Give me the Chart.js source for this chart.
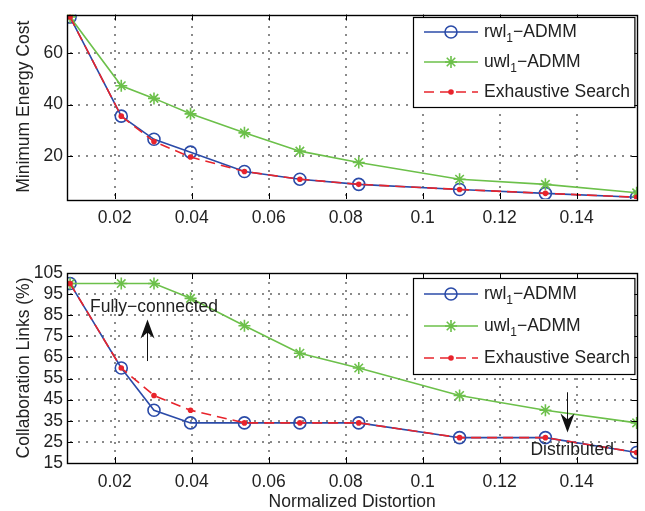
<!DOCTYPE html>
<html>
<head>
<meta charset="utf-8">
<script src="https://cdn.jsdelivr.net/npm/chart.js@4.4.1/dist/chart.umd.min.js"></script>
<style>
  html, body { margin: 0; padding: 0; background: #fff; }
  #wrap { width: 645px; height: 511px; position: relative; }
  .box { position: absolute; left: 0; width: 645px; }
</style>
</head>
<body>
<div id="wrap">
  <div class="box" style="top:0;height:230px"><canvas id="energyChart" width="645" height="230"></canvas></div>
  <div class="box" style="top:230px;height:281px"><canvas id="linksChart" width="645" height="281"></canvas></div>
</div>
<script>
// normalized distortion (x) for each point
const distortion = [0.0084, 0.0217, 0.0302, 0.0397, 0.0537, 0.0681, 0.0834, 0.1096, 0.1319, 0.1556];

// top panel: minimum energy cost
const energyRwl = [74, 35.5, 26.5, 21.5, 14, 11, 9, 7, 5.5, 4];
const energyUwl = [74, 47.3, 42.4, 36.4, 29, 21.9, 17.5, 11, 9, 5.7];
const energyExh = [74, 35.5, 25.6, 19.6, 14, 11, 9, 7, 5.5, 4];

// bottom panel: collaboration links (%)
const linksRwl = [100, 60, 40, 34, 34, 34, 34, 27, 27, 20];
const linksUwl = [100, 100, 100, 93, 80, 67, 60, 47, 40, 34];
const linksExh = [100, 60, 47, 40, 34, 34, 34, 27, 27, 20];

// tick labels
const xTicks = [0.02, 0.04, 0.06, 0.08, 0.1, 0.12, 0.14];
const energyTicks = [20, 40, 60];
const linksTicks = [15, 25, 35, 45, 55, 65, 75, 85, 95, 105];

const seriesNames = ['rwl', 'uwl', 'Exhaustive Search'];

const BLUE = '#2b4ba8';
const GREEN = '#6cc04a';
const RED = '#e8242c';
const FONT = '"Liberation Sans", Arial, Helvetica, sans-serif';
const FSIZE = 17.5;

function pts(ys) {
    return distortion.map((x, i) => ({ x: x, y: ys[i] }));
}

function makeDatasets(rwl, uwl, exh) {
    return [{
        label: seriesNames[0],
        data: pts(rwl),
        borderColor: BLUE,
        borderWidth: 1.6,
        pointStyle: 'circle',
        pointRadius: 6,
        pointBorderWidth: 1.6,
        pointBorderColor: BLUE,
        pointBackgroundColor: 'rgba(0,0,0,0)',
        order: 2
    }, {
        label: seriesNames[1],
        data: pts(uwl),
        borderColor: GREEN,
        borderWidth: 1.6,
        pointStyle: 'star',
        pointRadius: 6,
        pointBorderWidth: 1.6,
        pointBorderColor: GREEN,
        pointBackgroundColor: GREEN,
        order: 1
    }, {
        label: seriesNames[2],
        data: pts(exh),
        borderColor: RED,
        borderWidth: 1.6,
        borderDash: [10, 6],
        pointStyle: 'circle',
        pointRadius: 2.8,
        pointBorderWidth: 0,
        pointBorderColor: RED,
        pointBackgroundColor: RED,
        order: 0
    }];
}

// dotted grid + black box with inward ticks, MATLAB style
function framePlugin(yTicks) {
    return {
        id: 'frame',
        beforeDatasetsDraw(chart) {
            const ctx = chart.ctx;
            const a = chart.chartArea;
            const xs = chart.scales.x, ys = chart.scales.y;
            ctx.save();
            ctx.fillStyle = '#8a8a8a';
            xTicks.forEach(v => {
                const px = Math.round(xs.getPixelForValue(v));
                for (let y = a.bottom - 4; y > a.top + 2; y -= 8) {
                    ctx.fillRect(px - 1, Math.round(y) - 1, 2, 2);
                }
            });
            yTicks.forEach(v => {
                const py = Math.round(ys.getPixelForValue(v));
                if (py < a.top + 2 || py > a.bottom - 2) return;
                for (let x = a.left + 4; x < a.right - 2; x += 8) {
                    ctx.fillRect(Math.round(x) - 1, py - 1, 2, 2);
                }
            });
            ctx.restore();
        },
        afterDatasetsDraw(chart) {
            const ctx = chart.ctx;
            const a = chart.chartArea;
            const xs = chart.scales.x, ys = chart.scales.y;
            ctx.save();
            ctx.fillStyle = '#000';
            xTicks.forEach(v => {
                const px = Math.round(xs.getPixelForValue(v));
                ctx.fillRect(px, a.bottom - 6, 1, 6);
                ctx.fillRect(px, a.top, 1, 6);
            });
            yTicks.forEach(v => {
                const py = Math.round(ys.getPixelForValue(v));
                ctx.fillRect(a.left, py, 6, 1);
                ctx.fillRect(a.right - 6, py, 6, 1);
            });
            ctx.strokeStyle = '#000';
            ctx.lineWidth = 1.4;
            ctx.strokeRect(Math.round(a.left) + 0.5, Math.round(a.top) + 0.5,
                Math.round(a.right - a.left), Math.round(a.bottom - a.top));
            ctx.restore();
        }
    };
}

// legend drawn in the upper right corner (needs subscript 1)
function legendPlugin(boxTop, rowGap) {
    return {
        id: 'innerLegend',
        afterDraw(chart) {
            const ctx = chart.ctx;
            const a = chart.chartArea;
            const left = 413, right = a.right - 3;
            const h = rowGap * 3;
            ctx.save();
            ctx.fillStyle = '#fff';
            ctx.fillRect(left, boxTop, right - left, h);
            ctx.strokeStyle = '#000';
            ctx.lineWidth = 1.2;
            ctx.strokeRect(left + 0.5, boxTop + 0.5, right - left, h);
            chart.data.datasets.forEach((ds, i) => {
                const y = boxTop + rowGap * (i + 0.5);
                ctx.save();
                ctx.strokeStyle = ds.borderColor;
                ctx.lineWidth = ds.borderWidth;
                ctx.setLineDash(ds.borderDash || []);
                ctx.beginPath();
                ctx.moveTo(424, y); ctx.lineTo(478, y);
                ctx.stroke();
                ctx.restore();

                ctx.save();
                ctx.fillStyle = ds.pointBackgroundColor;
                ctx.strokeStyle = ds.pointBorderColor;
                ctx.lineWidth = ds.pointBorderWidth;
                Chart.helpers.drawPoint(ctx, {
                    pointStyle: ds.pointStyle,
                    radius: ds.pointRadius,
                    borderWidth: ds.pointBorderWidth,
                    rotation: 0
                }, 451, y);
                ctx.restore();

                ctx.fillStyle = '#222';
                ctx.textBaseline = 'middle';
                ctx.font = FSIZE + 'px ' + FONT;
                let tx = 484;
                if (i < 2) {
                    ctx.fillText(ds.label, tx, y);
                    tx += ctx.measureText(ds.label).width;
                    ctx.font = '12px ' + FONT;
                    ctx.fillText('1', tx, y + 7);
                    tx += ctx.measureText('1').width;
                    ctx.font = FSIZE + 'px ' + FONT;
                    ctx.fillText('\u2212ADMM', tx, y);
                } else {
                    ctx.fillText(ds.label, tx, y);
                }
            });
            ctx.restore();
        }
    };
}

function arrow(ctx, x, y0, y1) {
    // shaft from y0 to y1, head at y1
    const dir = y1 < y0 ? -1 : 1;
    ctx.beginPath();
    ctx.moveTo(x, y0);
    ctx.lineTo(x, y1 - dir * 10);
    ctx.stroke();
    ctx.beginPath();
    ctx.moveTo(x, y1);
    ctx.lineTo(x - 7, y1 - dir * 19);
    ctx.lineTo(x, y1 - dir * 13);
    ctx.lineTo(x + 7, y1 - dir * 19);
    ctx.closePath();
    ctx.fill();
}

const notePlugin = {
    id: 'notes',
    afterDatasetsDraw(chart) {
        const ctx = chart.ctx;
        const xs = chart.scales.x, ys = chart.scales.y;
        ctx.save();
        ctx.strokeStyle = '#111';
        ctx.lineWidth = 1;
        ctx.font = FSIZE + 'px ' + FONT;
        ctx.textBaseline = 'middle';
        ctx.fillStyle = '#222';
        ctx.fillText('Fully\u2212connected', xs.getPixelForValue(0.0136), ys.getPixelForValue(89));
        ctx.fillText('Distributed', xs.getPixelForValue(0.1280), ys.getPixelForValue(21.2));
        ctx.fillStyle = '#111';
        arrow(ctx, Math.round(xs.getPixelForValue(0.0284)) + 0.5, ys.getPixelForValue(63.3), ys.getPixelForValue(83));
        arrow(ctx, Math.round(xs.getPixelForValue(0.1376)) + 0.5, ys.getPixelForValue(48.5), ys.getPixelForValue(29.5));
        ctx.restore();
    }
};

function baseOptions(yTicks, yMin, yMax, yTitle, xHeight, xTitle) {
    return {
        responsive: false,
        animation: false,
        devicePixelRatio: 1,
        layout: { padding: { left: 0, right: 2, top: 0, bottom: 0 } },
        plugins: { legend: { display: false }, tooltip: { enabled: false } },
        scales: {
            x: {
                type: 'linear',
                min: 0.0076,
                max: 0.1558,
                afterBuildTicks: s => { s.ticks = xTicks.map(v => ({ value: v })); },
                afterFit: s => { s.height = xHeight; },
                border: { display: false },
                grid: { display: false, drawTicks: false },
                ticks: {
                    padding: 9,
                    autoSkip: false,
                    color: '#222',
                    font: { family: FONT, size: FSIZE },
                    maxRotation: 0,
                    callback: v => String(+(+v).toFixed(3))
                },
                title: xTitle ? {
                    display: true,
                    text: xTitle,
                    color: '#222',
                    font: { family: FONT, size: FSIZE },
                    padding: { top: 0, bottom: -2 }
                } : { display: false }
            },
            y: {
                type: 'linear',
                min: yMin,
                max: yMax,
                afterBuildTicks: s => { s.ticks = yTicks.map(v => ({ value: v })); },
                afterFit: s => { s.width = 67; },
                border: { display: false },
                grid: { display: false, drawTicks: false },
                ticks: {
                    padding: 4,
                    autoSkip: false,
                    color: '#222',
                    font: { family: FONT, size: FSIZE }
                },
                title: {
                    display: true,
                    text: yTitle,
                    color: '#222',
                    font: { family: FONT, size: FSIZE },
                    padding: { top: 14, bottom: 0 }
                }
            }
        }
    };
}

const energyOpts = baseOptions(energyTicks, 3.3, 75, 'Minimum Energy Cost', 31, null);
energyOpts.layout.padding.top = 8;

new Chart(document.getElementById('energyChart'), {
    type: 'line',
    data: { datasets: makeDatasets(energyRwl, energyUwl, energyExh) },
    options: energyOpts,
    plugins: [framePlugin(energyTicks), legendPlugin(17, 30)]
});

const linksOpts = baseOptions(linksTicks, 15, 105, 'Collaboration Links (%)', 48, 'Normalized Distortion');
linksOpts.layout.padding.top = 43;

new Chart(document.getElementById('linksChart'), {
    type: 'line',
    data: { datasets: makeDatasets(linksRwl, linksUwl, linksExh) },
    options: linksOpts,
    plugins: [framePlugin(linksTicks), notePlugin, legendPlugin(48, 32)]
});
</script>
</body>
</html>
